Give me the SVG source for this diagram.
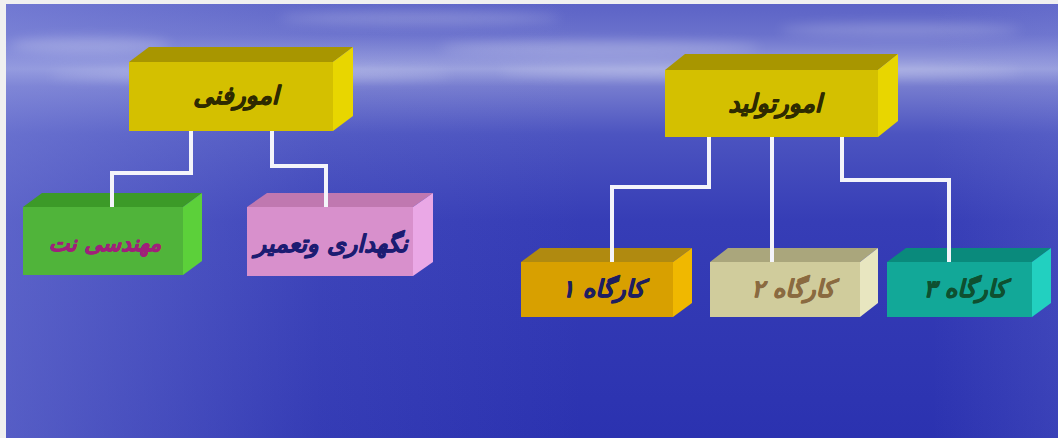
<svg xmlns="http://www.w3.org/2000/svg" width="1058" height="438" viewBox="0 0 1058 438">
  <defs>
    <linearGradient id="sky" x1="0" y1="0" x2="0" y2="1">
      <stop offset="0" stop-color="#5c63c6"/>
      <stop offset="0.07" stop-color="#6a71cc"/>
      <stop offset="0.12" stop-color="#8a90d8"/>
      <stop offset="0.15" stop-color="#9ca2de"/>
      <stop offset="0.19" stop-color="#767ccf"/>
      <stop offset="0.3" stop-color="#4c54c0"/>
      <stop offset="0.5" stop-color="#363db6"/>
      <stop offset="1" stop-color="#2b32b0"/>
    </linearGradient>
    <linearGradient id="leftGlow" x1="0" y1="0" x2="1" y2="0">
      <stop offset="0" stop-color="#8a92e0" stop-opacity="0.45"/>
      <stop offset="0.3" stop-color="#8a92e0" stop-opacity="0.1"/>
      <stop offset="0.55" stop-color="#8a92e0" stop-opacity="0"/>
      <stop offset="0.88" stop-color="#8a92e0" stop-opacity="0"/>
      <stop offset="1" stop-color="#8a92e0" stop-opacity="0.15"/>
    </linearGradient>
    <filter id="soft" x="-20%" y="-200%" width="140%" height="500%">
      <feGaussianBlur stdDeviation="6"/>
    </filter>
    <style>
      .txt { font-family: "DejaVu Sans", sans-serif; font-weight: bold; font-style: italic; text-anchor: middle; stroke-width: 0.7; stroke-linejoin: round; }
      .link { fill: none; stroke: #f4f4fa; stroke-width: 4; stroke-linejoin: miter; }
      .yellow .front { fill: #d4c000; } .yellow .top { fill: #a89600; } .yellow .side { fill: #e8d600; }
      .green .front { fill: #50b43a; } .green .top { fill: #3c9a28; } .green .side { fill: #5cd03a; }
      .pink .front { fill: #d890cc; } .pink .top { fill: #c078b0; } .pink .side { fill: #eaa8e6; }
      .gold .front { fill: #d8a000; } .gold .top { fill: #b08a10; } .gold .side { fill: #f0b800; }
      .beige .front { fill: #d0cc9c; } .beige .top { fill: #aaa67c; } .beige .side { fill: #e8e6c0; }
      .teal .front { fill: #12a898; } .teal .top { fill: #0a8a7c; } .teal .side { fill: #22d0c0; }
    </style>
  </defs>

  <!-- page and sky backdrop -->
  <rect x="0" y="0" width="1058" height="438" fill="#f0f0f0"/>
  <rect x="6" y="4" width="1052" height="434" fill="url(#sky)"/>
  <rect x="6" y="4" width="1052" height="434" fill="url(#leftGlow)"/>
  <g fill="#ffffff" opacity="0.22" filter="url(#soft)">
    <ellipse cx="90" cy="45" rx="80" ry="8"/>
    <ellipse cx="420" cy="18" rx="140" ry="6"/>
    <ellipse cx="600" cy="48" rx="160" ry="7"/>
    <ellipse cx="900" cy="30" rx="120" ry="6"/>
    <ellipse cx="250" cy="75" rx="200" ry="6"/>
    <ellipse cx="760" cy="72" rx="260" ry="6"/>
  </g>

  <!-- top-level boxes -->
  <g id="node-omur-fanni" class="yellow">
    <polygon class="top" points="129,62 149,47 353,47 333,62"/>
    <polygon class="side" points="333,62 353,47 353,116 333,131"/>
    <rect class="front" x="129" y="62" width="204" height="69"/>
    <text class="txt" x="236" y="104" font-size="25" fill="#2e2a00" stroke="#2e2a00">امورفنی</text>
  </g>

  <g id="node-omur-tolid" class="yellow">
    <polygon class="top" points="665,70 685,54 898,54 878,70"/>
    <polygon class="side" points="878,70 898,54 898,121 878,137"/>
    <rect class="front" x="665" y="70" width="213" height="67"/>
    <text class="txt" x="775" y="112" font-size="25" fill="#2e2a00" stroke="#2e2a00">امورتولید</text>
  </g>

  <!-- children of the technical branch -->
  <g id="node-mohandesi-net" class="green">
    <polygon class="top" points="23,207 42,193 202,193 183,207"/>
    <polygon class="side" points="183,207 202,193 202,261 183,275"/>
    <rect class="front" x="23" y="207" width="160" height="68"/>
    <text class="txt" x="105" y="251" font-size="22" fill="#a0207a" stroke="#a0207a">مهندسی نت</text>
  </g>

  <g id="node-negahdari" class="pink">
    <polygon class="top" points="247,207 267,193 433,193 413,207"/>
    <polygon class="side" points="413,207 433,193 433,262 413,276"/>
    <rect class="front" x="247" y="207" width="166" height="69"/>
    <text class="txt" x="331" y="252" font-size="24" fill="#1c1c72" stroke="#1c1c72">نگهداری وتعمیر</text>
  </g>

  <!-- children of the production branch -->
  <g id="node-kargah-1" class="gold">
    <polygon class="top" points="521,262 540,248 692,248 673,262"/>
    <polygon class="side" points="673,262 692,248 692,303 673,317"/>
    <rect class="front" x="521" y="262" width="152" height="55"/>
    <text class="txt" x="603" y="297" font-size="24" fill="#1e1e60" stroke="#1e1e60">کارگاه ۱</text>
  </g>

  <g id="node-kargah-2" class="beige">
    <polygon class="top" points="710,262 728,248 878,248 860,262"/>
    <polygon class="side" points="860,262 878,248 878,303 860,317"/>
    <rect class="front" x="710" y="262" width="150" height="55"/>
    <text class="txt" x="793" y="297" font-size="24" fill="#8a6a40" stroke="#8a6a40">کارگاه ۲</text>
  </g>

  <g id="node-kargah-3" class="teal">
    <polygon class="top" points="887,262 906,248 1051,248 1032,262"/>
    <polygon class="side" points="1032,262 1051,248 1051,303 1032,317"/>
    <rect class="front" x="887" y="262" width="145" height="55"/>
    <text class="txt" x="965" y="297" font-size="24" fill="#0e5030" stroke="#0e5030">کارگاه ۳</text>
  </g>

  <!-- connectors -->
  <g id="connectors">
    <polyline class="link" points="191,131 191,173 112,173 112,207"/>
    <polyline class="link" points="272,131 272,166 326,166 326,207"/>
    <polyline class="link" points="709,137 709,187 612,187 612,262"/>
    <polyline class="link" points="772,137 772,262"/>
    <polyline class="link" points="842,137 842,180 949,180 949,262"/>
  </g>
</svg>
